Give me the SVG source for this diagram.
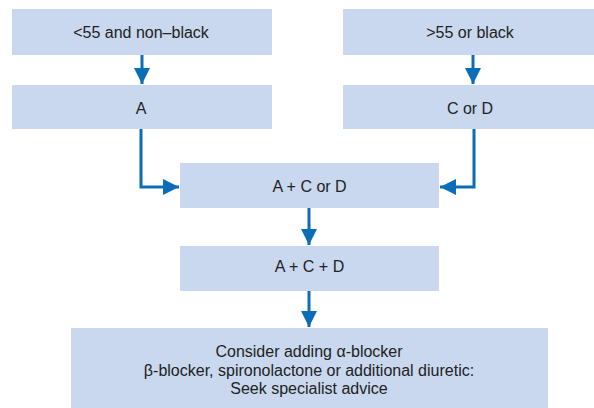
<svg xmlns="http://www.w3.org/2000/svg" width="594" height="408" viewBox="0 0 594 408">
<defs>
<style>
.box{fill:#c9d8ee;}
.t{font-family:"Liberation Sans",Arial,sans-serif;font-size:16px;fill:#222222;text-anchor:middle;}
.c{fill:none;stroke:#0b6cb8;stroke-width:3;}
</style>
<marker id="ah" markerUnits="userSpaceOnUse" markerWidth="16" markerHeight="16" refX="16" refY="8" orient="auto">
<path d="M0,0 L16,8 L0,16 Z" fill="#0b6cb8"/>
</marker>
</defs>
<rect width="594" height="408" fill="#ffffff"/>
<g id="n1"><rect class="box" x="12" y="9" width="260" height="46"/><text class="t" x="141" y="38">&lt;55 and non–black</text></g>
<g id="n2"><rect class="box" x="343" y="9" width="251" height="46"/><text class="t" x="470" y="38">&gt;55 or black</text></g>
<g id="n3"><rect class="box" x="12" y="85" width="260" height="44"/><text class="t" x="141" y="113.5">A</text></g>
<g id="n4"><rect class="box" x="343" y="85" width="251" height="44"/><text class="t" x="470" y="113.5">C or D</text></g>
<g id="n5"><rect class="box" x="180" y="163" width="259" height="45"/><text class="t" x="309.5" y="191.5">A + C or D</text></g>
<g id="n6"><rect class="box" x="180" y="246" width="259" height="45"/><text class="t" x="309.5" y="272">A + C + D</text></g>
<g id="n7"><rect class="box" x="71" y="328" width="477" height="80"/>
<text class="t" x="309" y="357">Consider adding α-blocker</text>
<text class="t" x="309" y="375.5">β-blocker, spironolactone or additional diuretic:</text>
<text class="t" x="309" y="394">Seek specialist advice</text></g>
<g id="connectors">
<path class="c" d="M142,55 V84" marker-end="url(#ah)"/>
<path class="c" d="M473,55 V84" marker-end="url(#ah)"/>
<path class="c" d="M141,129 V187 H179" marker-end="url(#ah)"/>
<path class="c" d="M474,129 V187 H440" marker-end="url(#ah)"/>
<path class="c" d="M309,208 V245" marker-end="url(#ah)"/>
<path class="c" d="M309,291 V327" marker-end="url(#ah)"/>
</g>
</svg>
